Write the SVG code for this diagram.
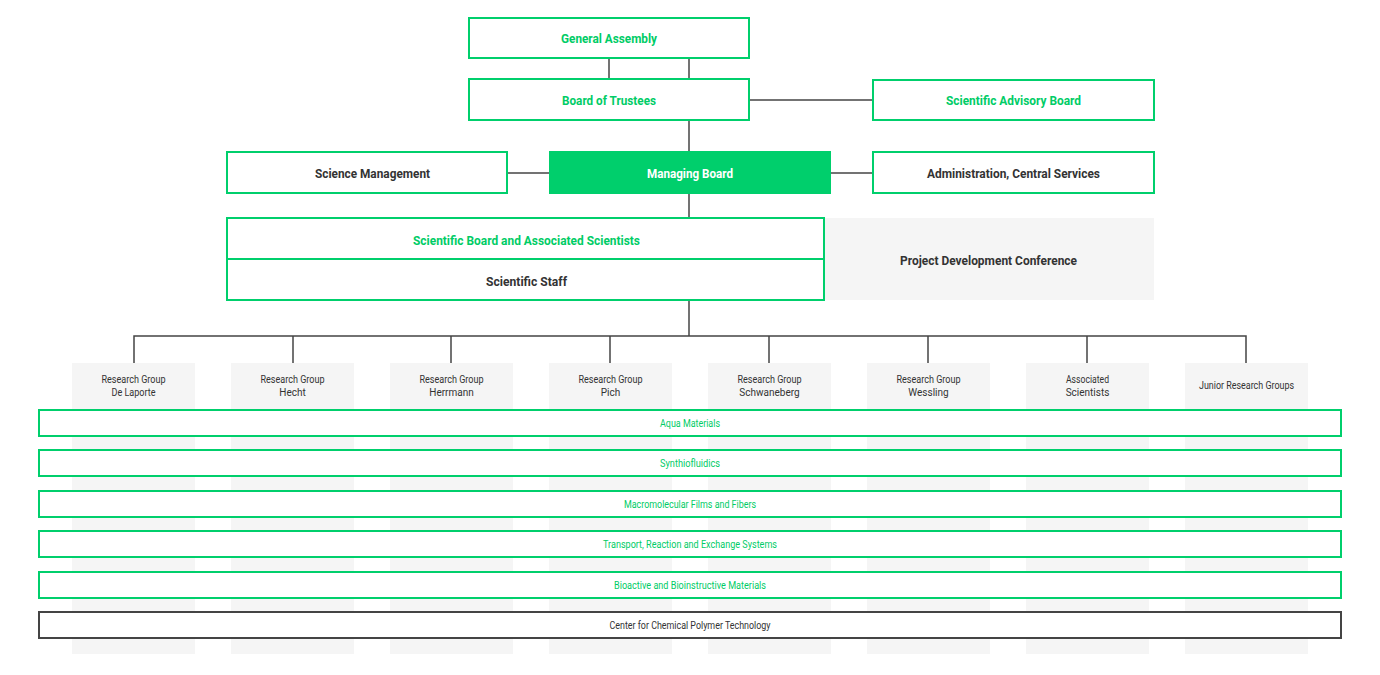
<svg xmlns="http://www.w3.org/2000/svg" width="1380" height="675" viewBox="0 0 1380 675">
<style>
.box{fill:#fff;stroke:#00CF6C;stroke-width:2}
.fill{fill:#00CF6C;stroke:#00CF6C;stroke-width:2}
.grey{fill:#F5F5F5}
.band{fill:#fff;stroke:#00CF6C;stroke-width:2}
.dark{fill:#fff;stroke:#444;stroke-width:2}
.ln{stroke:#444;stroke-width:1.5;fill:none}
text{font-family:Roboto,"Liberation Sans",sans-serif;text-anchor:middle}
.t{font-size:13px;font-weight:bold}
.s{font-size:10px}
.g{fill:#00CC66}
.d{fill:#333}
.w{fill:#fff}
</style>
<rect width="1380" height="675" fill="#fff"/>
<g id="columns">
<rect class="grey" x="72" y="363" width="123" height="291"/>
<rect class="grey" x="231" y="363" width="123" height="291"/>
<rect class="grey" x="390" y="363" width="123" height="291"/>
<rect class="grey" x="549" y="363" width="123" height="291"/>
<rect class="grey" x="708" y="363" width="123" height="291"/>
<rect class="grey" x="867" y="363" width="123" height="291"/>
<rect class="grey" x="1026" y="363" width="123" height="291"/>
<rect class="grey" x="1185" y="363" width="123" height="291"/>
</g>
<g id="connectors">
<line class="ln" x1="609" y1="58" x2="609" y2="79"/>
<line class="ln" x1="689" y1="58" x2="689" y2="79"/>
<line class="ln" x1="749" y1="100" x2="873" y2="100"/>
<line class="ln" x1="689" y1="120" x2="689" y2="152"/>
<line class="ln" x1="507" y1="173" x2="549" y2="173"/>
<line class="ln" x1="831" y1="173" x2="873" y2="173"/>
<line class="ln" x1="689" y1="193" x2="689" y2="218"/>
<line class="ln" x1="689" y1="300" x2="689" y2="336"/>
<polyline class="ln" points="134,363 134,336 1246,336 1246,363"/>
<line class="ln" x1="293" y1="336" x2="293" y2="363"/>
<line class="ln" x1="451" y1="336" x2="451" y2="363"/>
<line class="ln" x1="610" y1="336" x2="610" y2="363"/>
<line class="ln" x1="769" y1="336" x2="769" y2="363"/>
<line class="ln" x1="928" y1="336" x2="928" y2="363"/>
<line class="ln" x1="1087" y1="336" x2="1087" y2="363"/>
</g>
<g id="general-assembly">
<rect class="box" x="469" y="18" width="280" height="40"/>
<text class="t g" x="609" y="42.5" textLength="96" lengthAdjust="spacingAndGlyphs">General Assembly</text>
</g>
<g id="board-of-trustees">
<rect class="box" x="469" y="79" width="280" height="41"/>
<text class="t g" x="609" y="104.5" textLength="94" lengthAdjust="spacingAndGlyphs">Board of Trustees</text>
</g>
<g id="scientific-advisory-board">
<rect class="box" x="873" y="80" width="281" height="40"/>
<text class="t g" x="1013.5" y="104.5" textLength="135" lengthAdjust="spacingAndGlyphs">Scientific Advisory Board</text>
</g>
<g id="science-management">
<rect class="box" x="227" y="152" width="280" height="41"/>
<text class="t d" x="372.5" y="177.5" textLength="115" lengthAdjust="spacingAndGlyphs">Science Management</text>
</g>
<g id="managing-board">
<rect class="fill" x="550" y="152" width="280" height="41"/>
<text class="t w" x="690" y="177.5" textLength="86" lengthAdjust="spacingAndGlyphs">Managing Board</text>
</g>
<g id="administration">
<rect class="box" x="873" y="152" width="281" height="41"/>
<text class="t d" x="1013.5" y="177.5" textLength="173" lengthAdjust="spacingAndGlyphs">Administration, Central Services</text>
</g>
<g id="project-development-conference">
<rect class="grey" x="825" y="218" width="329" height="82"/>
<text class="t d" x="988.5" y="264.5" textLength="177" lengthAdjust="spacingAndGlyphs">Project Development Conference</text>
</g>
<g id="scientific-board">
<rect class="box" x="227" y="218" width="597" height="41"/>
<text class="t g" x="526.5" y="244.5" textLength="227" lengthAdjust="spacingAndGlyphs">Scientific Board and Associated Scientists</text>
</g>
<g id="scientific-staff">
<rect class="box" x="227" y="259" width="597" height="41"/>
<text class="t d" x="526.5" y="285.5" textLength="81" lengthAdjust="spacingAndGlyphs">Scientific Staff</text>
</g>
<g id="rg-delaporte">
<text class="s d" x="133.5" y="382.5" textLength="64" lengthAdjust="spacingAndGlyphs">Research Group</text>
<text class="s d" x="133.5" y="395.5" textLength="44" lengthAdjust="spacingAndGlyphs">De Laporte</text>
</g>
<g id="rg-hecht">
<text class="s d" x="292.5" y="382.5" textLength="64" lengthAdjust="spacingAndGlyphs">Research Group</text>
<text class="s d" x="292.5" y="395.5">Hecht</text>
</g>
<g id="rg-herrmann">
<text class="s d" x="451.5" y="382.5" textLength="64" lengthAdjust="spacingAndGlyphs">Research Group</text>
<text class="s d" x="451.5" y="395.5">Herrmann</text>
</g>
<g id="rg-pich">
<text class="s d" x="610.5" y="382.5" textLength="64" lengthAdjust="spacingAndGlyphs">Research Group</text>
<text class="s d" x="610.5" y="395.5">Pich</text>
</g>
<g id="rg-schwaneberg">
<text class="s d" x="769.5" y="382.5" textLength="64" lengthAdjust="spacingAndGlyphs">Research Group</text>
<text class="s d" x="769.5" y="395.5">Schwaneberg</text>
</g>
<g id="rg-wessling">
<text class="s d" x="928.5" y="382.5" textLength="64" lengthAdjust="spacingAndGlyphs">Research Group</text>
<text class="s d" x="928.5" y="395.5">Wessling</text>
</g>
<g id="associated-scientists">
<text class="s d" x="1087.5" y="382.5" textLength="43" lengthAdjust="spacingAndGlyphs">Associated</text>
<text class="s d" x="1087.5" y="395.5">Scientists</text>
</g>
<g id="junior-research-groups">
<text class="s d" x="1246.5" y="389" textLength="95" lengthAdjust="spacingAndGlyphs">Junior Research Groups</text>
</g>
<g id="aqua-materials">
<rect class="band" x="39" y="410" width="1302" height="26"/>
<text class="s g" x="690" y="426.5" textLength="60" lengthAdjust="spacingAndGlyphs">Aqua Materials</text>
</g>
<g id="synthiofluidics">
<rect class="band" x="39" y="450" width="1302" height="26"/>
<text class="s g" x="690" y="466.5" textLength="60" lengthAdjust="spacingAndGlyphs">Synthiofluidics</text>
</g>
<g id="macromolecular">
<rect class="band" x="39" y="491" width="1302" height="26"/>
<text class="s g" x="690" y="507.5" textLength="132" lengthAdjust="spacingAndGlyphs">Macromolecular Films and Fibers</text>
</g>
<g id="transport">
<rect class="band" x="39" y="531" width="1302" height="26"/>
<text class="s g" x="690" y="547.5" textLength="174" lengthAdjust="spacingAndGlyphs">Transport, Reaction and Exchange Systems</text>
</g>
<g id="bioactive">
<rect class="band" x="39" y="572" width="1302" height="26"/>
<text class="s g" x="690" y="588.5" textLength="152" lengthAdjust="spacingAndGlyphs">Bioactive and Bioinstructive Materials</text>
</g>
<g id="center">
<rect class="dark" x="39" y="612" width="1302" height="26"/>
<text class="s d" x="690" y="628.5" textLength="161" lengthAdjust="spacingAndGlyphs">Center for Chemical Polymer Technology</text>
</g>
</svg>
